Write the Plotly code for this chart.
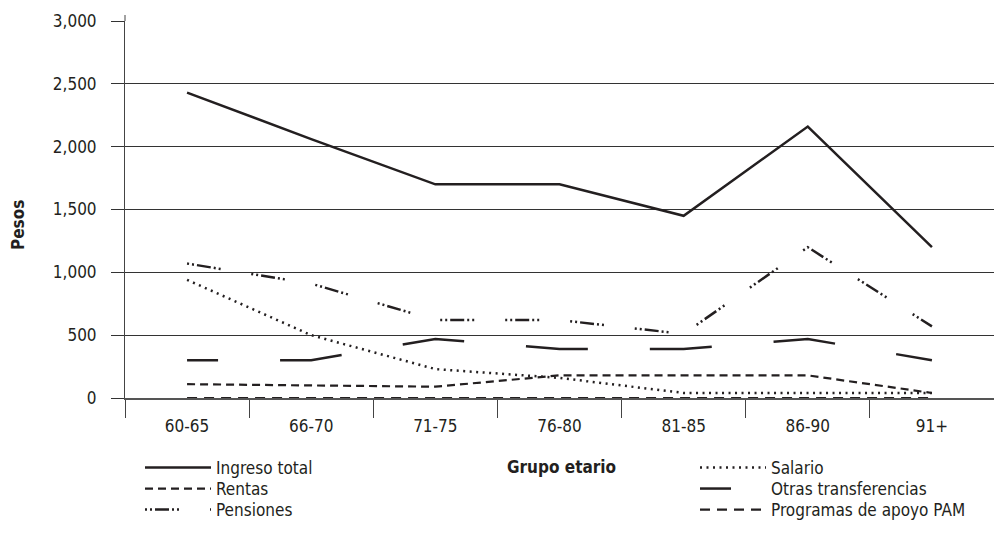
import plotly.graph_objects as go

# Age groups and average monthly income by source (pesos)
grupos = ["60-65", "66-70", "71-75", "76-80", "81-85", "86-90", "91+"]
ingreso_total = [2430, 2060, 1700, 1700, 1450, 2160, 1200]
rentas = [110, 100, 90, 180, 180, 180, 40]
pensiones = [1070, 910, 620, 620, 510, 1200, 570]
salario = [940, 500, 230, 160, 40, 40, 40]
otras_transferencias = [300, 300, 470, 390, 390, 470, 300]
programas_pam = [0, 0, 0, 0, 0, 0, 0]

FONT = "DejaVu Sans Condensed, Liberation Sans Narrow, sans-serif"
INK = "#231f20"

W, H = 994, 533
ml, mr, mt, mb = 125, 0, 21, 135
pw, ph = W - ml - mr, H - mt - mb


def px_x(x):
    return (x - ml) / pw


def px_y(y):
    return 1 - (y - mt) / ph


otras_dash = "31px,62px," + ",".join(["62px"] * 30)
pens_dash = "2px,3px,2px,3px,14px,3px,2px,3px,2px,31px"

# name, values, dash, width, legend column x (px), legend row
series = [
    ("Ingreso total", ingreso_total, "solid", 2.5, 140, 0),
    ("Rentas", rentas, "8px,5px", 2.2, 140, 1),
    ("Pensiones", pensiones, pens_dash, 2.5, 140, 2),
    ("Salario", salario, "2px,4.5px", 2.5, 695, 0),
    ("Otras transferencias", otras_transferencias, "20px,22px", 2.5, 695, 1),
    ("Programas de apoyo PAM", programas_pam, "10px,7px", 2.2, 695, 2),
]

fig = go.Figure()
legends = {}
for i, (name, vals, dash, w, lx, row) in enumerate(series):
    key = "legend" if i == 0 else f"legend{i + 1}"
    line_dash = otras_dash if name == "Otras transferencias" else dash
    fig.add_trace(go.Scatter(
        x=grupos, y=vals, name=name, mode="lines",
        line=dict(color=INK, width=w, dash=line_dash),
        legend=key, showlegend=True,
    ))
    legends[key] = dict(
        x=px_x(lx), y=px_y(450 + 21 * row),
        xanchor="left", yanchor="top",
        font=dict(family=FONT, size=17, color=INK),
        bgcolor="rgba(0,0,0,0)", itemwidth=66,
    )

fig.update_layout(
    width=W, height=H, showlegend=True,
    margin=dict(l=ml, r=mr, t=mt, b=mb),
    paper_bgcolor="white", plot_bgcolor="white",
    font=dict(family=FONT, size=17, color=INK),
    xaxis=dict(
        type="category", showgrid=False,
        showline=True, linecolor="#555", linewidth=1.5,
        ticks="outside", tickson="boundaries", ticklen=18,
        tickcolor="#444", tickwidth=1,
        ticklabelstandoff=12,
        tickfont=dict(family=FONT, size=17, color=INK),
        range=[-0.5, 6.5],
    ),
    yaxis=dict(
        range=[0, 3000], dtick=500, tickformat=",",
        showgrid=True, gridcolor="#333", gridwidth=1,
        zeroline=False,
        showline=True, linecolor="#444", linewidth=1,
        ticks="outside", ticklen=13, tickcolor="#333", tickwidth=1,
        ticklabelstandoff=11,
        tickfont=dict(family=FONT, size=17, color=INK),
    ),
    annotations=[
        dict(text="<b>Pesos</b>", xref="paper", yref="paper",
             x=px_x(18), y=px_y(225), textangle=-90, showarrow=False,
             xanchor="center", yanchor="middle",
             font=dict(family=FONT, size=17, color=INK)),
        dict(text="<b>Grupo etario</b>", xref="paper", yref="paper",
             x=px_x(561), y=px_y(467), showarrow=False,
             xanchor="center", yanchor="middle",
             font=dict(family=FONT, size=17, color=INK)),
    ],
    shapes=[
        dict(type="line", xref="paper", yref="paper",
             x0=0, x1=0, y0=1, y1=px_y(15),
             line=dict(color="#444", width=1)),
    ],
)
fig.update_layout(**legends)

fig.write_html("out.html")
